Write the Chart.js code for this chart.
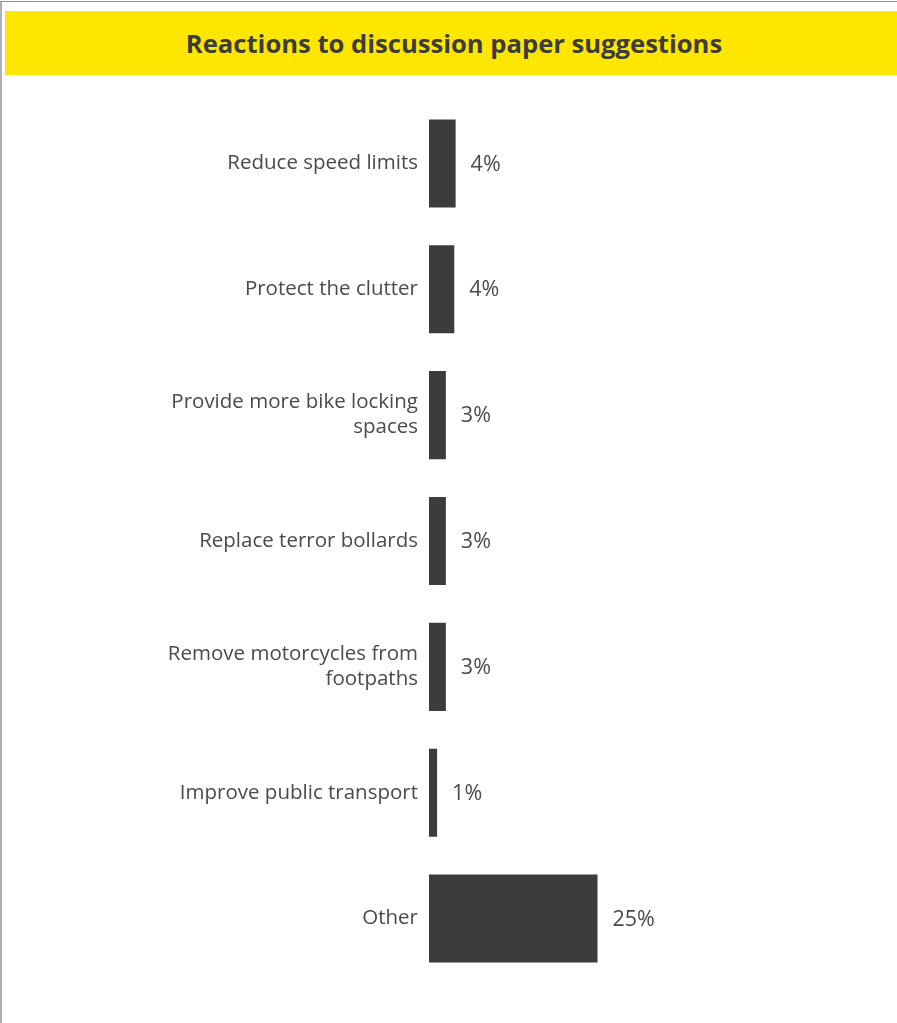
<!DOCTYPE html>
<html>
<head>
<meta charset="utf-8">
<script src="https://cdn.jsdelivr.net/npm/chart.js@4"></script>
<style>
  html, body { margin: 0; padding: 0; background: #fff; }
  #frame {
    position: absolute; left: 0; top: 1px; width: 896px; height: 1022px;
    border-top: 1px solid #8f8f8f; border-left: 2px solid #b0b0b0;
  }
  #header {
    position: absolute; left: 5px; top: 11px; width: 892px; height: 64px;
    background: #ffe600;
    display: flex; align-items: center; justify-content: center;
  }
  #header h1 {
    margin: 0; padding-left: 6px;
    font: bold 25.6px "Open Sans", sans-serif; color: #3c3c3c;
  }
  #wrap { position: absolute; left: 0; top: 77px; width: 897px; height: 928px; }
</style>
</head>
<body>
<div id="frame"></div>
<div id="header"><h1>Reactions to discussion paper suggestions</h1></div>
<div id="wrap"><canvas id="chart" width="897" height="928"></canvas></div>
<script>
// categories and values
const categories = [
  'Reduce speed limits',
  'Protect the clutter',
  ['Provide more bike locking', 'spaces'],
  'Replace terror bollards',
  ['Remove motorcycles from', 'footpaths'],
  'Improve public transport',
  'Other'
];
const values = [3.95, 3.75, 2.5, 2.5, 2.5, 1.2, 25];
const valueLabels = ['4%', '4%', '3%', '3%', '3%', '1%', '25%'];

// draws the percentage next to each bar
const valueLabelPlugin = {
  id: 'valueLabels',
  afterDatasetsDraw(chart) {
    const ctx = chart.ctx;
    const meta = chart.getDatasetMeta(0);
    ctx.save();
    ctx.font = '21.5px "Open Sans", sans-serif';
    ctx.fillStyle = '#4a4a4a';
    ctx.textAlign = 'left';
    ctx.textBaseline = 'middle';
    meta.data.forEach((bar, i) => {
      ctx.fillText(valueLabels[i], bar.x + 15, bar.y + 1);
    });
    ctx.restore();
  }
};

new Chart(document.getElementById('chart'), {
  type: 'bar',
  data: {
    labels: categories,
    datasets: [{
      data: values,
      backgroundColor: '#3c3c3c',
      borderWidth: 0,
      barPercentage: 0.7,
      categoryPercentage: 1.0
    }]
  },
  options: {
    indexAxis: 'y',
    responsive: false,
    animation: false,
    layout: { padding: { left: 0, right: 131, top: 0, bottom: 0 } },
    plugins: {
      legend: { display: false },
      tooltip: { enabled: false }
    },
    scales: {
      x: {
        display: false,
        min: 0,
        max: 50
      },
      y: {
        afterFit(scale) { scale.width = 429; },
        border: { display: false },
        grid: { display: false, drawTicks: false },
        ticks: {
          color: '#4a4a4a',
          padding: 11,
          font: { family: '"Open Sans", sans-serif', size: 20.5, lineHeight: 1.22 }
        }
      }
    }
  },
  plugins: [valueLabelPlugin]
});
</script>
</body>
</html>
